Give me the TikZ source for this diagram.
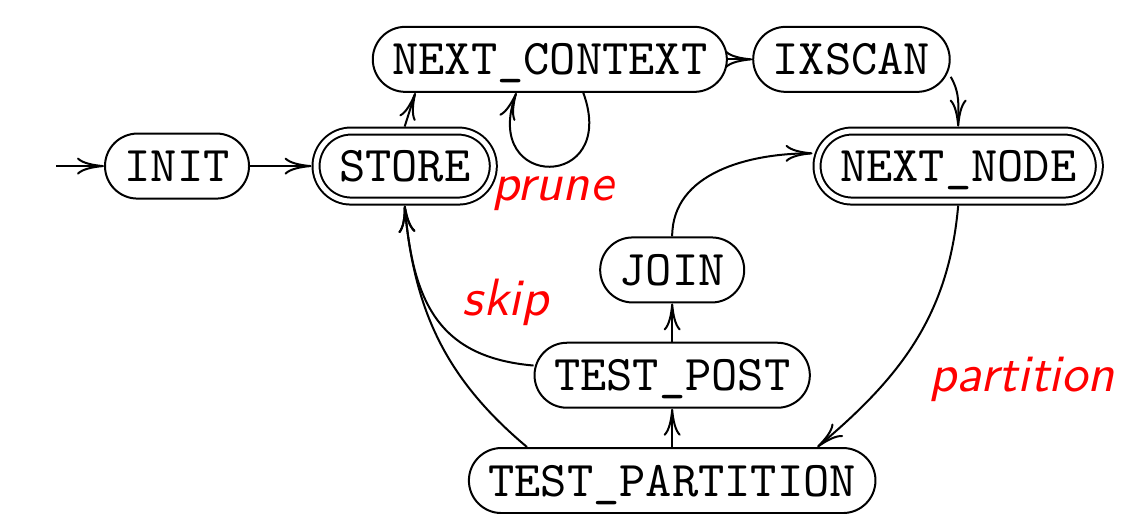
\documentclass[tikz,border=0pt]{standalone}
\usepackage{tikz}
\usetikzlibrary{arrows.meta}

\begin{document}
\begin{tikzpicture}[
    state/.style={rectangle, draw, rounded corners=6.5pt, minimum height=13pt, inner xsep=3.9pt, text height=6.2pt, text depth=0pt, font=\ttfamily},
    final/.style={state, double, double distance=1pt, outer sep=0.9pt, inner xsep=4.6pt, minimum height=14pt, rounded corners=7pt},
    arrow/.style={-{Computer Modern Rightarrow[length=5.4pt,width=3.4pt]}},
    lbl/.style={text=red, font=\fontsize{10.5}{12}\selectfont\sffamily\itshape}
]
\useasboundingbox (-1.244,-2.439) rectangle (6.810,1.167);

% States
\node[state] (init) at (0,0) {INIT};
\node[final] (store) at (1.6,0) {STORE};
\node[state] (nextctx) at (2.62,0.75) {NEXT\_CONTEXT};
\node[state] (ixscan) at (4.74,0.75) {IXSCAN};
\node[final] (nextnode) at (5.49,0) {NEXT\_NODE};
\node[state] (join) at (3.48,-0.73) {JOIN};
\node[state] (testpost) at (3.48,-1.47) {TEST\_POST};
\node[state] (testpart) at (3.48,-2.21) {TEST\_PARTITION};

\coordinate (start) at (-0.85,0);

% Transitions
\draw[arrow] (start) -- (init);
\draw[arrow] (init) -- (store);
\draw[arrow] (store.north) -- (nextctx.194);
\draw[arrow] (nextctx.-45) to[out=-70, in=-110, looseness=4] (nextctx.225);
\draw[arrow] (nextctx) -- (ixscan);
\draw[arrow] (ixscan.-10) to[out=-60, in=90] (nextnode.north);
\draw[arrow] (join) to[out=90, in=180] (nextnode.175);
\draw[arrow] (nextnode.south) to[out=-95, in=40] (testpart.13);
\draw[arrow] (testpart) -- (testpost);
\draw[arrow] (testpost) -- (join);
\draw[arrow] (testpost.176) to[out=175, in=-85, looseness=1.2] (store.south);
\draw[arrow] (testpart.167) to[out=140, in=-85] (store.south);

% Labels
\node[lbl] (prune) at (2.64,-0.19) {prune};
\node[lbl] (skip) at (2.31,-0.96) {skip};
\node[lbl] (partition) at (5.94,-1.5) {partition};

\end{tikzpicture}
\end{document}
